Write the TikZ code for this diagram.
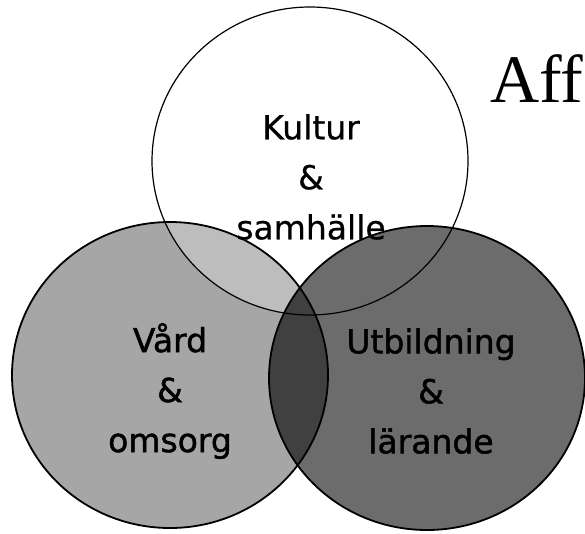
\documentclass[tikz,border=0pt]{standalone}
\usepackage{fontspec}
\setmainfont{Liberation Serif}
\newfontfamily\venfont[FakeBold=0.6]{DejaVu Sans}
\newfontfamily\venboldfont[FakeBold=1.4]{DejaVu Sans}
\definecolor{vardgray}{HTML}{A6A6A6}
\definecolor{kulturvard}{HTML}{BDBDBD}
\definecolor{utbgray}{HTML}{6C6C6C}
\definecolor{mittgray}{HTML}{404040}

\begin{document}
\begin{tikzpicture}[x=1pt,y=-1pt]
\tikzset{
  ring/.style={draw=black,line width=1.8pt},
  topring/.style={draw=black,line width=1.2pt},
  ringlabel/.style={align=center,inner sep=0pt,font=\venfont\fontsize{33}{50}\selectfont},
  darklabel/.style={ringlabel,font=\venboldfont\fontsize{33}{50}\selectfont},
  titletext/.style={anchor=base west,inner sep=0pt,font=\fontsize{68}{68}\selectfont}
}
\useasboundingbox (0,0) rectangle (585,533);
\coordinate (c_K) at (310,161);
\coordinate (c_V) at (170,375);
\coordinate (c_U) at (427,378);
% fills
\fill[vardgray] (c_V) ellipse [x radius=158,y radius=153];
\begin{scope}
  \clip (c_K) ellipse [x radius=158,y radius=154];
  \fill[kulturvard] (c_V) ellipse [x radius=158,y radius=153];
\end{scope}
\fill[utbgray] (c_U) ellipse [x radius=158,y radius=152];
\begin{scope}
  \clip (c_V) ellipse [x radius=158,y radius=153];
  \fill[mittgray] (c_U) ellipse [x radius=158,y radius=152];
\end{scope}
% outlines
\draw[ring] (c_V) ellipse [x radius=158,y radius=153];
\draw[ring] (c_U) ellipse [x radius=158,y radius=152];
\draw[topring] (c_K) ellipse [x radius=158,y radius=154];
% labels
\node[ringlabel] (kultur) at (311,177) {Kultur\\\&\\samhälle};
\node[darklabel] (vard) at (170,391) {Vård\\\&\\omsorg};
\node[darklabel] (utb) at (431,391) {Utbildning\\\&\\lärande};
\node[titletext] (aff) at (490,102) {Aff};
\end{tikzpicture}
\end{document}
